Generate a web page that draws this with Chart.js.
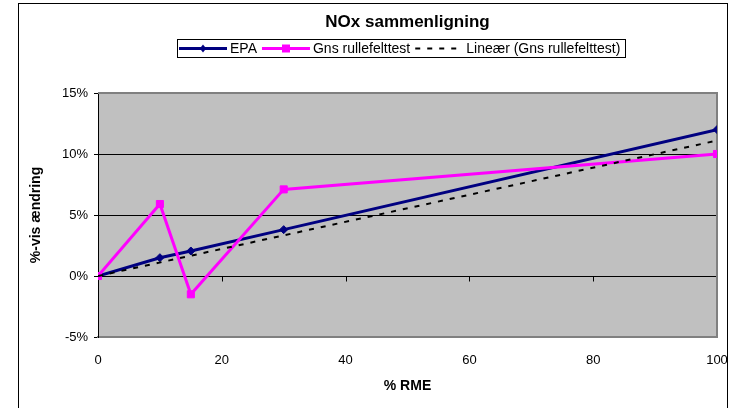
<!DOCTYPE html>
<html>
<head>
<meta charset="utf-8">
<script src="https://cdn.jsdelivr.net/npm/chart.js@4/dist/chart.umd.min.js"></script>
<style>
html, body { margin: 0; padding: 0; background: #fff; overflow: hidden; }
#wrap { position: relative; width: 732px; height: 408px; }
#frame { position: absolute; left: 18px; top: 3px; width: 708px; height: 420px; border: 1px solid #000; pointer-events: none; }
canvas { position: absolute; left: 0; top: 0; }
</style>
</head>
<body>
<div id="wrap">
  <canvas id="chart" width="732" height="408"></canvas>
  <div id="frame"></div>
</div>
<script>
const TITLE = 'NOx sammenligning';
const X_TITLE = '% RME';
const Y_TITLE = '%-vis ændring';

const rme = [0, 10, 15, 30, 100];
const epa = [0, 1.5, 2.05, 3.8, 12.0];
const gns = [0, 5.9, -1.5, 7.1, 10.0];
const trend_x = [0, 100];
const trend_y = [0, 11.1];

const x_ticks = [0, 20, 40, 60, 80, 100];
const y_ticks = [-5, 0, 5, 10, 15];
const grid_lines = [0, 5, 10];

const FONT = '"Liberation Sans", Arial, sans-serif';

function to_points(xs, ys) {
  return xs.map((x, i) => ({x: x, y: ys[i]}));
}

function draw_marker(ctx, style, r, x, y, color) {
  ctx.save();
  ctx.fillStyle = color;
  ctx.beginPath();
  if (style == 'rectRot') {
    ctx.moveTo(x, y - r);
    ctx.lineTo(x + r * 0.8, y);
    ctx.lineTo(x, y + r);
    ctx.lineTo(x - r * 0.8, y);
    ctx.closePath();
  } else {
    ctx.rect(x - r * 0.8, y - r * 0.8, r * 1.6, r * 1.6);
  }
  ctx.fill();
  ctx.restore();
}

// gray plot area, x tick marks on the 0% line, top/right border
const plot_area = {
  id: 'plot_area',
  beforeDraw(chart) {
    const {ctx, chartArea: a} = chart;
    ctx.save();
    ctx.fillStyle = '#c0c0c0';
    ctx.fillRect(a.left, a.top, a.right - a.left, a.bottom - a.top);
    ctx.restore();
  },
  beforeDatasetsDraw(chart) {
    const {ctx, chartArea: a, scales} = chart;
    const y0 = Math.round(scales.y.getPixelForValue(0)) + 0.5;
    ctx.save();
    ctx.strokeStyle = '#000';
    ctx.lineWidth = 1;
    x_ticks.forEach(v => {
      if (v == 0) return;
      const px = Math.round(scales.x.getPixelForValue(v)) + 0.5;
      ctx.beginPath();
      ctx.moveTo(px, y0);
      ctx.lineTo(px, y0 + 5);
      ctx.stroke();
    });
    ctx.strokeStyle = '#808080';
    ctx.lineWidth = 2;
    ctx.beginPath();
    ctx.moveTo(a.left, a.top);
    ctx.lineTo(a.right, a.top);
    ctx.lineTo(a.right, a.bottom);
    ctx.stroke();
    ctx.restore();
  }
};

// title and boxed legend above the plot area
const head = {
  id: 'head',
  afterDraw(chart) {
    const {ctx, chartArea: a} = chart;
    const cx = (a.left + a.right) / 2;
    ctx.save();
    ctx.fillStyle = '#000';
    ctx.textAlign = 'center';
    ctx.textBaseline = 'middle';
    ctx.font = 'bold 17px ' + FONT;
    ctx.fillText(TITLE, cx, 22);

    ctx.font = '14px ' + FONT;
    ctx.textAlign = 'left';
    const sample = 48, pad = 2, gap = 3, after = 5;
    const items = chart.data.datasets.map(d => ({d: d, w: ctx.measureText(d.label).width}));
    const total = Math.round(pad + items.reduce((s, it) => s + sample + gap + it.w + after, 0));
    const lx = Math.round(cx - 7 - total / 2), ly = 39, lh = 18;
    ctx.strokeStyle = '#000';
    ctx.lineWidth = 1;
    ctx.strokeRect(lx + 0.5, ly + 0.5, total, lh);
    const my = ly + lh / 2 + 0.5;
    let px = lx + pad;
    items.forEach(it => {
      const d = it.d;
      ctx.save();
      ctx.strokeStyle = d.borderColor;
      ctx.lineWidth = d.borderWidth;
      ctx.setLineDash(d.borderDash || []);
      ctx.beginPath();
      ctx.moveTo(px, my);
      ctx.lineTo(px + sample, my);
      ctx.stroke();
      ctx.restore();
      if (d.pointRadius > 0) {
        draw_marker(ctx, d.pointStyle, d.pointRadius, px + sample / 2, my, d.borderColor);
      }
      ctx.fillStyle = '#000';
      ctx.fillText(d.label, px + sample + gap, my + 1);
      px += sample + gap + it.w + after;
    });
    ctx.restore();
  }
};

new Chart(document.getElementById('chart'), {
  type: 'scatter',
  data: {
    datasets: [
      {
        label: 'EPA',
        data: to_points(rme, epa),
        showLine: true,
        borderColor: '#000080',
        backgroundColor: '#000080',
        borderWidth: 3,
        pointStyle: 'rectRot',
        pointRadius: 4,
        pointBorderWidth: 1,
        order: 2
      },
      {
        label: 'Gns rullefelttest',
        data: to_points(rme, gns),
        showLine: true,
        borderColor: '#ff00ff',
        backgroundColor: '#ff00ff',
        borderWidth: 3,
        pointStyle: 'rect',
        pointRadius: 5,
        pointBorderWidth: 1,
        order: 1
      },
      {
        label: 'Lineær (Gns rullefelttest)',
        data: to_points(trend_x, trend_y),
        showLine: true,
        borderColor: '#000',
        backgroundColor: '#000',
        borderWidth: 2,
        borderDash: [5, 7],
        pointRadius: 0,
        order: 0
      }
    ]
  },
  options: {
    responsive: false,
    animation: false,
    events: [],
    layout: { padding: { left: 20, right: 15, top: 93, bottom: 0 } },
    plugins: {
      legend: { display: false },
      title: { display: false },
      tooltip: { enabled: false }
    },
    scales: {
      x: {
        type: 'linear',
        min: 0,
        max: 100,
        afterBuildTicks: s => { s.ticks = x_ticks.map(v => ({value: v})); },
        afterFit: s => { s.height = 71; s.paddingLeft = 0; s.paddingRight = 0; },
        grid: { display: false, drawTicks: false },
        border: { display: true, color: '#808080', width: 2 },
        ticks: { padding: 16, color: '#000', font: { family: FONT, size: 13 } },
        title: {
          display: true,
          text: X_TITLE,
          color: '#000',
          font: { family: FONT, size: 14, weight: 'bold' },
          padding: { top: 0, bottom: 13 }
        }
      },
      y: {
        min: -5,
        max: 15,
        afterBuildTicks: s => { s.ticks = y_ticks.map(v => ({value: v})); },
        afterFit: s => { s.width = 78; },
        grid: {
          color: c => (c.tick && grid_lines.includes(c.tick.value)) ? '#000' : 'rgba(0,0,0,0)',
          tickColor: '#000',
          tickLength: 4,
          lineWidth: 1
        },
        border: { display: true, color: '#000', width: 1 },
        ticks: {
          padding: 6,
          color: '#000',
          font: { family: FONT, size: 13 },
          callback: v => v + '%'
        },
        title: {
          display: true,
          text: Y_TITLE,
          color: '#000',
          font: { family: FONT, size: 14, weight: 'bold' },
          padding: { top: 8, bottom: 0 }
        }
      }
    }
  },
  plugins: [plot_area, head]
});
</script>
</body>
</html>
